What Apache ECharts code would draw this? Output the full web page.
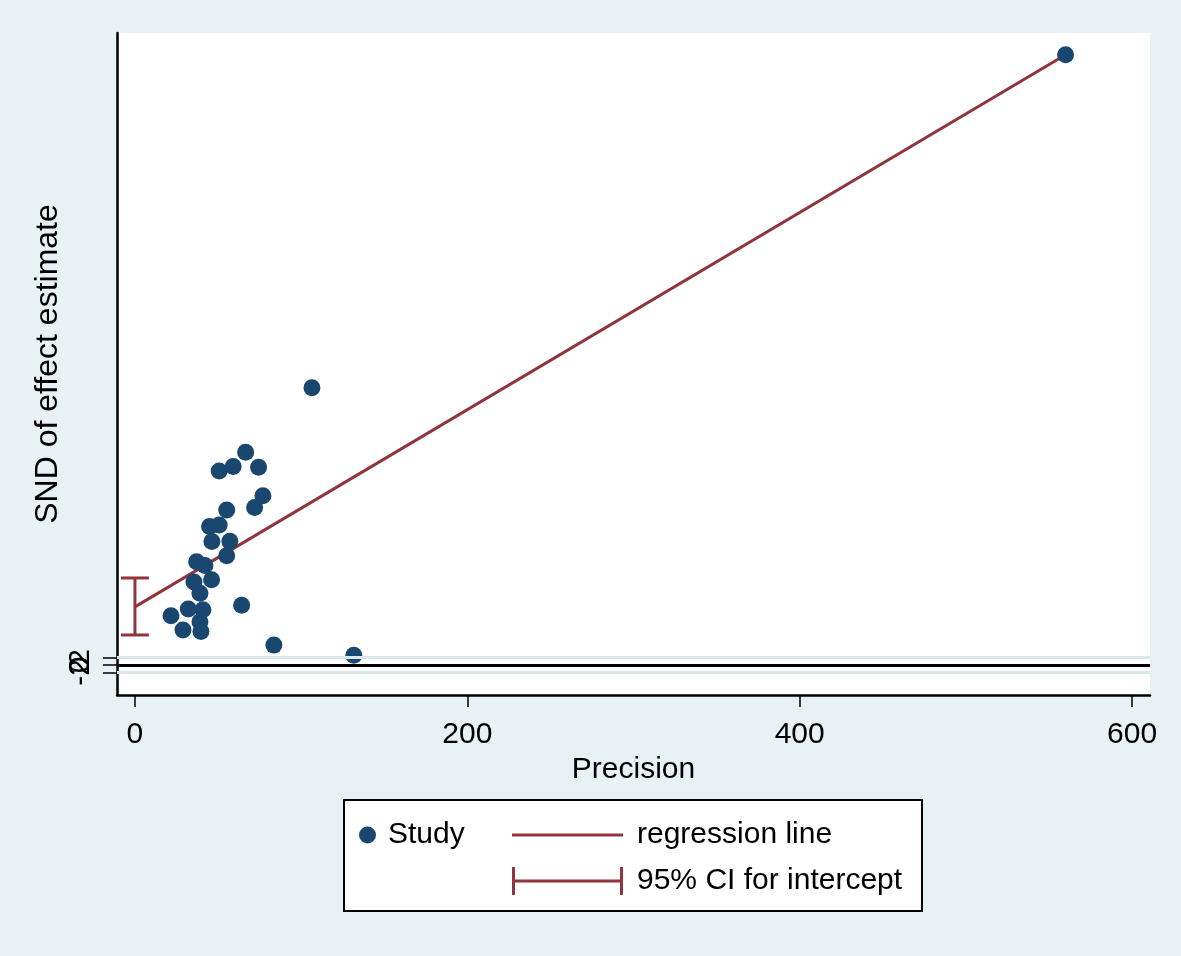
<!DOCTYPE html>
<html>
<head>
<meta charset="utf-8">
<script src="https://cdn.jsdelivr.net/npm/echarts@6/dist/echarts.min.js"></script>
<style>
  html, body { margin: 0; padding: 0; background: #e8f1f3; }
  #main { width: 1181px; height: 956px; }
</style>
</head>
<body>
<div id="main"></div>
<script>
// study points: [precision, SND of effect estimate]
const studyPrecision = [66.6, 50.7, 59.1, 74.4, 77.0, 72.0, 55.2, 44.9, 50.7, 46.3, 57.1, 55.2, 37.1, 42.1,
  46.1, 35.5, 39.1, 40.9, 32.1, 21.7, 39.1, 39.7, 28.9, 64.2, 83.6, 131.7, 106.5, 560.0]
const studySnd = [56.7, 51.7, 52.9, 52.7, 45.1, 42.0, 41.3, 36.9, 37.3, 32.9, 33.0, 29.1, 27.5, 26.5,
  22.7, 22.1, 19.1, 14.7, 14.9, 13.1, 11.5, 8.9, 9.3, 15.9, 5.3, 2.6, 73.9, 162.7]
// regression line end points
const regX = [0, 560]
const regY = [15.5, 162.7]
// 95% CI for intercept: [x, low, high]
const ciIntercept = [0, 8.0, 23.2]
const xTicks = [0, 200, 400, 600]
const yTicks = [-2, 0, 2]

const font = "'Liberation Sans', Arial, sans-serif"
const navy = '#1a476f'
const maroon = '#90353b'

const chart = echarts.init(document.getElementById('main'))

// the y ticks sit only a few pixels apart, so each one gets its own overlaid axis
// (otherwise the overlapping labels get dropped)
const yAxes = yTicks.map((v, i) => ({
  type: 'value',
  min: -8, max: 168.5,
  position: 'left',
  name: i === 0 ? 'SND of effect estimate' : '',
  nameLocation: 'middle',
  nameGap: 53,
  nameMoveOverlap: false,
  nameTextStyle: { fontSize: 32, color: '#000', fontFamily: font },
  axisLine: { show: i === 0, onZero: false, lineStyle: { color: '#000', width: 2.5 } },
  axisTick: { show: true, length: 14, customValues: [v], lineStyle: { color: '#000', width: 1.5 } },
  axisLabel: {
    customValues: [v], hideOverlap: false,
    fontSize: 30, color: '#000', margin: 21, rotate: 90, fontFamily: font
  },
  splitLine: { show: false }
}))

const option = {
  animation: false,
  backgroundColor: '#e8f1f3',
  textStyle: { fontFamily: font },
  grid: {
    left: 117, right: 31, top: 33, bottom: 261,
    show: true, backgroundColor: '#ffffff', borderWidth: 0
  },
  xAxis: {
    type: 'value',
    min: -10.8, max: 610.8,
    name: 'Precision',
    nameLocation: 'middle',
    nameGap: 56,
    nameTextStyle: { fontSize: 30, color: '#000', fontFamily: font },
    axisLine: { show: true, onZero: false, lineStyle: { color: '#000', width: 2.5 } },
    axisTick: { show: true, length: 12, customValues: xTicks, lineStyle: { color: '#000', width: 1.5 } },
    axisLabel: { customValues: xTicks, fontSize: 30, color: '#000', margin: 25, fontFamily: font },
    splitLine: { show: false }
  },
  yAxis: yAxes,
  legend: [
    {
      data: ['Study'],
      left: 354, top: 815,
      icon: 'circle', itemWidth: 17, itemHeight: 17,
      textStyle: { fontSize: 30, color: '#000', fontFamily: font, padding: [0, 0, 0, 7] },
      selectedMode: false
    },
    {
      data: ['regression line'],
      left: 507, top: 815,
      icon: 'rect', itemWidth: 111, itemHeight: 3,
      textStyle: { fontSize: 30, color: '#000', fontFamily: font, padding: [0, 0, 0, 9] },
      selectedMode: false
    },
    {
      data: ['95% CI for intercept'],
      left: 507, top: 861,
      icon: 'path://M0,0h3v28h-3z M0,12.5h111v3h-111z M108,0h3v28h-3z',
      itemWidth: 111, itemHeight: 28,
      textStyle: { fontSize: 30, color: '#000', fontFamily: font, padding: [0, 0, 0, 9] },
      selectedMode: false
    }
  ],
  graphic: [
    {
      type: 'rect', z: -1,
      shape: { x: 344, y: 800, width: 578, height: 111 },
      style: { fill: '#fff', stroke: '#000', lineWidth: 2 }
    }
  ],
  series: [
    {
      name: 'reference',
      type: 'line',
      data: [],
      silent: true,
      markLine: {
        silent: true,
        symbol: 'none',
        label: { show: false },
        data: [
          { yAxis: 2, lineStyle: { color: '#dbe8eb', width: 3, type: 'solid' } },
          { yAxis: -2, lineStyle: { color: '#dbe8eb', width: 3, type: 'solid' } },
          { yAxis: 0, lineStyle: { color: '#000', width: 3, type: 'solid' } }
        ]
      }
    },
    {
      name: 'regression line',
      type: 'line',
      data: regX.map((x, i) => [x, regY[i]]),
      showSymbol: false,
      color: maroon,
      lineStyle: { color: maroon, width: 3 },
      z: 3
    },
    {
      name: '95% CI for intercept',
      type: 'custom',
      color: maroon,
      data: [ciIntercept],
      renderItem(params, api) {
        const lo = api.coord([api.value(0), api.value(1)])
        const hi = api.coord([api.value(0), api.value(2)])
        const cap = 14
        const style = { stroke: maroon, lineWidth: 3 }
        return {
          type: 'group',
          children: [
            { type: 'line', shape: { x1: lo[0], y1: lo[1], x2: hi[0], y2: hi[1] }, style },
            { type: 'line', shape: { x1: lo[0] - cap, y1: lo[1], x2: lo[0] + cap, y2: lo[1] }, style },
            { type: 'line', shape: { x1: hi[0] - cap, y1: hi[1], x2: hi[0] + cap, y2: hi[1] }, style }
          ]
        }
      },
      z: 3
    },
    {
      name: 'Study',
      type: 'scatter',
      data: studyPrecision.map((x, i) => [x, studySnd[i]]),
      symbolSize: 17,
      color: navy,
      itemStyle: { color: navy, opacity: 1 },
      z: 4
    }
  ]
}

chart.setOption(option)
</script>
</body>
</html>
